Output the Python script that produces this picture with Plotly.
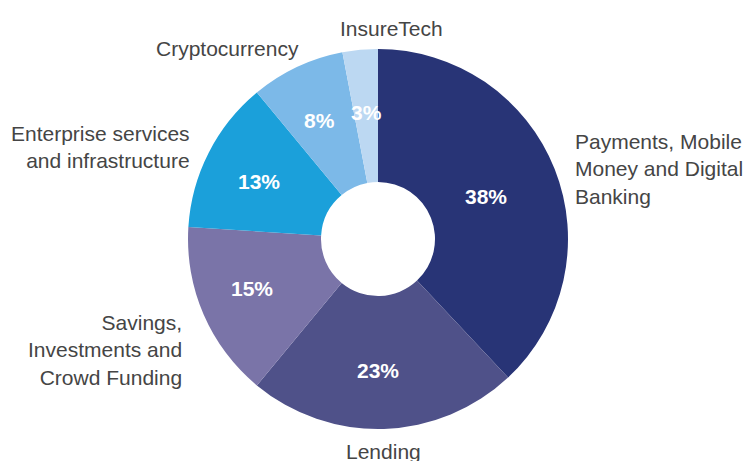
import plotly.graph_objects as go

# Fintech segment shares (%)
segments = [
    "Payments, Mobile<br>Money and Digital<br>Banking",
    "Lending",
    "Savings,<br>Investments and<br>Crowd Funding",
    "Enterprise services<br>and infrastructure",
    "Cryptocurrency",
    "InsureTech",
]
shares = [38, 23, 15, 13, 8, 3]
colors = ["#283476", "#4F5189", "#7A74A8", "#1BA0DA", "#7CB9E8", "#BCD8F2"]

W, H = 748, 461
# pie placement in pixels: centre (378, 239), radius 190
cx, cy, R = 378, 239, 190

# label placements (pixel centres / anchors)
pct_pos = [(486, 197), (378, 370), (252, 288), (259, 181), (319, 120), (366, 113)]
name_pos = [
    (573, 169, "left", "middle"),
    (383, 451, "center", "middle"),
    (184, 350, "right", "middle"),
    (192, 147, "right", "middle"),
    (227, 48, "center", "middle"),
    (391, 29, "center", "middle"),
]

fig = go.Figure(
    go.Pie(
        labels=segments,
        values=shares,
        hole=0.3,
        sort=False,
        direction="clockwise",
        rotation=0,
        marker=dict(colors=colors, line=dict(width=0)),
        textinfo="none",
        hoverinfo="label+percent",
        showlegend=False,
        domain=dict(x=[(cx - R) / W, (cx + R) / W], y=[(H - cy - R) / H, (H - cy + R) / H]),
    )
)

annotations = []
for v, (px, py) in zip(shares, pct_pos):
    annotations.append(dict(
        text=f"<b>{v}%</b>", x=px / W, y=1 - py / H, xref="paper", yref="paper",
        showarrow=False, xanchor="center", yanchor="middle",
        font=dict(family="Liberation Sans, Arial, sans-serif", size=21, color="white"),
    ))
for name, (px, py, xa, ya) in zip(segments, name_pos):
    annotations.append(dict(
        text=name, x=px / W, y=1 - py / H, xref="paper", yref="paper",
        showarrow=False, xanchor=xa, yanchor=ya, align=xa,
        font=dict(family="Liberation Sans, Arial, sans-serif", size=21, color="#454545"),
    ))

fig.update_layout(
    width=W, height=H,
    margin=dict(l=0, r=0, t=0, b=0),
    paper_bgcolor="white", plot_bgcolor="white",
    annotations=annotations,
)

fig.write_html("out.html")
